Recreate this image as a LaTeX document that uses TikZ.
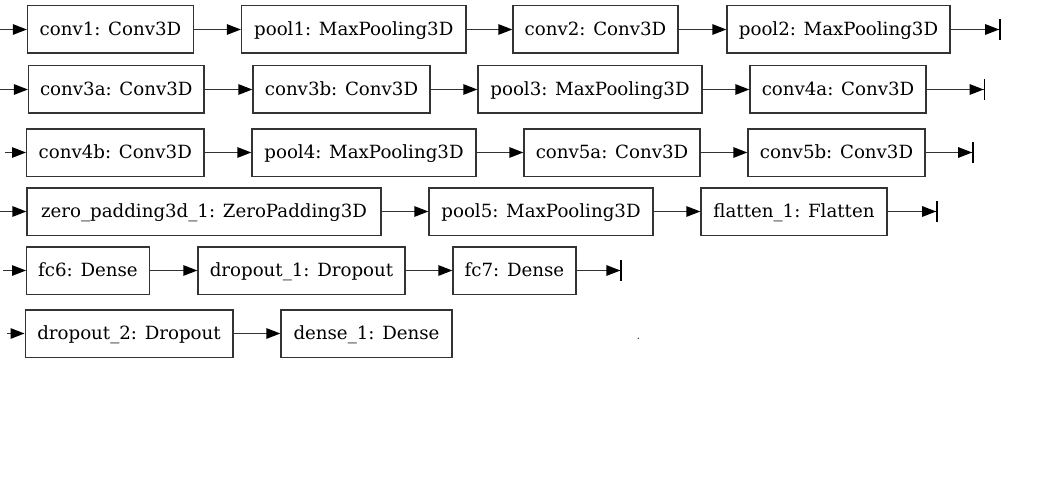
\documentclass[tikz,border=0pt]{standalone}
\usepackage{fontspec}
\setmainfont{DejaVu Serif}
\usetikzlibrary{arrows.meta}
\begin{document}
\begin{tikzpicture}[x=1pt,y=-1pt,
  layer/.style={draw=black!80, line width=1.3pt, minimum height=47.3pt, inner sep=0pt,
    text height=14pt, text depth=2pt,
    font=\fontsize{18.2}{22}\selectfont, text=black},
  flow/.style={draw=black!80, line width=1.3pt, -{Triangle[length=14pt,width=10.5pt,color=black,fill=black]}},
  wrapend/.style={draw=black!80, line width=1.3pt, -{Triangle[length=14pt,width=10.5pt,sep=0pt,color=black,fill=black]Bar[width=21pt,line width=1.3pt,color=black]}},
  speck/.style={fill=black!80, circle, inner sep=0pt, minimum size=1.6pt}]
\useasboundingbox (0,0) rectangle (1048,500);
% row 1
\node[layer, minimum width=166pt] (conv1) at (110.5,29.5) {conv1: Conv3D};
\node[layer, minimum width=224.5pt] (pool1) at (353.75,29.5) {pool1: MaxPooling3D};
\node[layer, minimum width=165pt] (conv2) at (595.5,29.5) {conv2: Conv3D};
\node[layer, minimum width=223pt] (pool2) at (838.5,29.5) {pool2: MaxPooling3D};
\coordinate (s1) at (0,29.5);
\coordinate (e1) at (1000.5,29.5);
% row 2
\node[layer, minimum width=175.5pt] (conv3a) at (116.3,89.5) {conv3a: Conv3D};
\node[layer, minimum width=177pt] (conv3b) at (341.5,89.5) {conv3b: Conv3D};
\node[layer, minimum width=224pt] (pool3) at (590,89.5) {pool3: MaxPooling3D};
\node[layer, minimum width=176pt] (conv4a) at (838,89.5) {conv4a: Conv3D};
\coordinate (s2) at (0,89.5);
\coordinate (e2) at (985,89.5);
% row 3
\node[layer, minimum width=177.3pt] (conv4b) at (115.3,152.5) {conv4b: Conv3D};
\node[layer, minimum width=224pt] (pool4) at (364,152.5) {pool4: MaxPooling3D};
\node[layer, minimum width=176pt] (conv5a) at (612,152.5) {conv5a: Conv3D};
\node[layer, minimum width=177pt] (conv5b) at (836.5,152.5) {conv5b: Conv3D};
\coordinate (s3) at (5,152.5);
\coordinate (e3) at (973.5,152.5);
% row 4
\node[layer, minimum width=354pt] (zp) at (204,211.5) {zero\_padding3d\_1: ZeroPadding3D};
\node[layer, minimum width=224pt] (pool5) at (541,211.5) {pool5: MaxPooling3D};
\node[layer, minimum width=186pt] (flat) at (794,211.5) {flatten\_1: Flatten};
\coordinate (s4) at (0,211.5);
\coordinate (e4) at (937.5,211.5);
% row 5
\node[layer, minimum width=122.7pt] (fc6) at (88,270.5) {fc6: Dense};
\node[layer, minimum width=207pt] (drop1) at (301.5,270.5) {dropout\_1: Dropout};
\node[layer, minimum width=123pt] (fc7) at (514.5,270.5) {fc7: Dense};
\coordinate (s5) at (3,270.5);
\coordinate (e5) at (621.7,270.5);
% row 6
\node[layer, minimum width=207.7pt] (drop2) at (129,333.5) {dropout\_2: Dropout};
\node[layer, minimum width=171pt] (dense1) at (366.5,333.5) {dense\_1: Dense};
\coordinate (s6) at (7,333.5);
\node[speck] (dot) at (638.3,338.3) {};
% connectors
\draw[flow] (s1) -- (conv1);
\draw[flow] (conv1) -- (pool1);
\draw[flow] (pool1) -- (conv2);
\draw[flow] (conv2) -- (pool2);
\draw[wrapend] (pool2) -- (e1);
\draw[flow] (s2) -- (conv3a);
\draw[flow] (conv3a) -- (conv3b);
\draw[flow] (conv3b) -- (pool3);
\draw[flow] (pool3) -- (conv4a);
\draw[wrapend] (conv4a) -- (e2);
\draw[flow] (s3) -- (conv4b);
\draw[flow] (conv4b) -- (pool4);
\draw[flow] (pool4) -- (conv5a);
\draw[flow] (conv5a) -- (conv5b);
\draw[wrapend] (conv5b) -- (e3);
\draw[flow] (s4) -- (zp);
\draw[flow] (zp) -- (pool5);
\draw[flow] (pool5) -- (flat);
\draw[wrapend] (flat) -- (e4);
\draw[flow] (s5) -- (fc6);
\draw[flow] (fc6) -- (drop1);
\draw[flow] (drop1) -- (fc7);
\draw[wrapend] (fc7) -- (e5);
\draw[flow] (s6) -- (drop2);
\draw[flow] (drop2) -- (dense1);
\end{tikzpicture}
\end{document}
